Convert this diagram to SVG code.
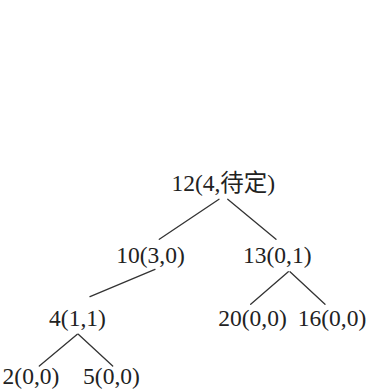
<svg xmlns="http://www.w3.org/2000/svg" width="368" height="391" viewBox="0 0 368 391">
<style>
.t{font-family:"Liberation Serif","Noto Sans CJK SC",serif;font-size:23.5px;fill:#222;text-anchor:middle}
.e{stroke:#333;stroke-width:1.3;fill:none;stroke-linecap:round}
</style>
<rect width="368" height="391" fill="#fff"/>
<g id="connectors">
<line class="e" x1="219" y1="199.3" x2="159.3" y2="239.3"/>
<line class="e" x1="227.7" y1="199.3" x2="276" y2="239.3"/>
<line class="e" x1="155" y1="269.3" x2="90" y2="296.7"/>
<line class="e" x1="288.3" y1="271.7" x2="250.7" y2="304.3"/>
<line class="e" x1="290" y1="271.7" x2="325" y2="304.3"/>
<line class="e" x1="77.3" y1="334.3" x2="39.3" y2="366"/>
<line class="e" x1="78.3" y1="334.3" x2="112.7" y2="366"/>
</g>
<g id="n12"><text class="t" x="223.3" y="191">12(4,待定)</text></g>
<g id="n10"><text class="t" x="150.5" y="262.5">10(3,0)</text></g>
<g id="n13"><text class="t" x="277.3" y="262.5">13(0,1)</text></g>
<g id="n4"><text class="t" x="77.5" y="326">4(1,1)</text></g>
<g id="n20"><text class="t" x="252.5" y="326">20(0,0)</text></g>
<g id="n16"><text class="t" x="332" y="326">16(0,0)</text></g>
<g id="n2"><text class="t" x="31" y="384">2(0,0)</text></g>
<g id="n5"><text class="t" x="111.5" y="384">5(0,0)</text></g>
</svg>
